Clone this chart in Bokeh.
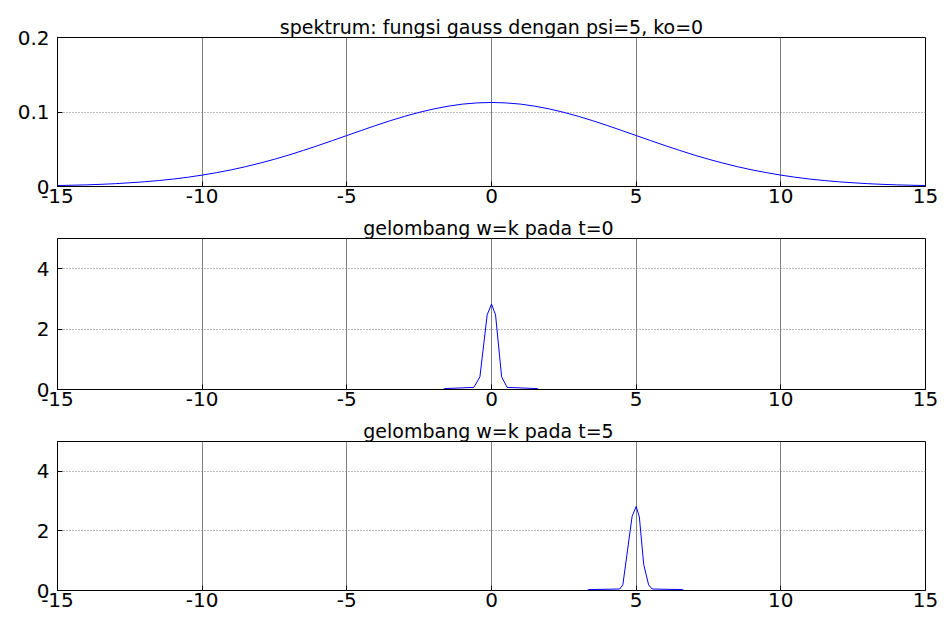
from bokeh.plotting import figure
from bokeh.layouts import column
from bokeh.models import Range1d, FixedTicker
from bokeh.embed import file_html
from bokeh.resources import INLINE

# ---- data ----
spec_k = [-15, -14.5, -14, -13.5, -13, -12.5, -12, -11.5, -11, -10.5, -10,
          -9.5, -9, -8.5, -8, -7.5, -7, -6.5, -6, -5.5, -5,
          -4.5, -4, -3.5, -3, -2.5, -2, -1.5, -1, -0.5, 0,
          0.5, 1, 1.5, 2, 2.5, 3, 3.5, 4, 4.5, 5,
          5.5, 6, 6.5, 7, 7.5, 8, 8.5, 9, 9.5, 10,
          10.5, 11, 11.5, 12, 12.5, 13, 13.5, 14, 14.5, 15]
spec_a = [0.0013, 0.0017, 0.0022, 0.0029, 0.0038, 0.0050, 0.0063, 0.0080, 0.0100, 0.0124, 0.0153,
          0.0186, 0.0223, 0.0266, 0.0314, 0.0366, 0.0423, 0.0485, 0.0549, 0.0616, 0.0684,
          0.0752, 0.0819, 0.0883, 0.0942, 0.0995, 0.1041, 0.1078, 0.1106, 0.1122, 0.1128,
          0.1122, 0.1106, 0.1078, 0.1041, 0.0995, 0.0942, 0.0883, 0.0819, 0.0752, 0.0684,
          0.0616, 0.0549, 0.0485, 0.0423, 0.0366, 0.0314, 0.0266, 0.0223, 0.0186, 0.0153,
          0.0124, 0.0100, 0.0080, 0.0063, 0.0050, 0.0038, 0.0029, 0.0022, 0.0017, 0.0013]

wave0_x = [-15, -1.68, -1.62, -0.61, -0.40, -0.15, 0.0, 0.14, 0.35, 0.54, 1.58, 1.64, 15]
wave0_y = [0, 0, 0.03, 0.07, 0.42, 2.47, 2.83, 2.47, 0.42, 0.07, 0.03, 0, 0]

wave5_x = [-15, 3.30, 3.36, 4.43, 4.54, 4.86, 5.0, 5.11, 5.26, 5.43, 5.55, 6.60, 6.66, 15]
wave5_y = [0, 0, 0.03, 0.05, 0.19, 2.49, 2.82, 2.47, 0.88, 0.19, 0.05, 0.03, 0, 0]

x_ticks = [-15, -10, -5, 0, 5, 10, 15]
x_tick_labels = ["-15", "-10", "-5", "0", "5", "10", "15"]
spec_y_ticks = [0, 0.1, 0.2]
spec_y_labels = ["0", "0.1", "0.2"]
wave_y_ticks = [0, 2, 4]
wave_y_labels = ["0", "2", "4"]
titles = ["spektrum: fungsi gauss dengan psi=5, ko=0",
          "gelombang  w=k pada t=0",
          "gelombang  w=k pada t=5"]

FONT = "DejaVu Sans"


def make(title, ymax, yticks, ylabels, height, top, bottom):
    p = figure(width=947, height=height, x_range=Range1d(-15, 15), y_range=Range1d(0, ymax),
               output_backend="svg", toolbar_location=None,
               min_border_left=57, min_border_right=22,
               min_border_top=top, min_border_bottom=bottom)
    p.title.text = title
    p.title.align = "center"
    p.title.text_font = FONT
    p.title.text_font_size = "19px"
    p.title.text_font_style = "normal"
    p.title.text_color = "black"
    p.title.standoff = 0
    p.title.offset = 0
    p.xaxis.ticker = FixedTicker(ticks=x_ticks)
    p.yaxis.ticker = FixedTicker(ticks=yticks)
    p.xaxis.major_label_overrides = {t: s for t, s in zip(x_ticks, x_tick_labels)}
    p.yaxis.major_label_overrides = {t: s for t, s in zip(yticks, ylabels)}
    for ax in (p.xaxis[0], p.yaxis[0]):
        ax.major_label_text_font = FONT
        ax.major_label_text_font_size = "20px"
        ax.major_label_text_color = "black"
        ax.axis_line_color = "black"
        ax.major_tick_line_color = "black"
        ax.major_tick_in = 5
        ax.major_tick_out = 0
        ax.minor_tick_line_color = None
    p.xaxis.major_label_standoff = 2
    p.yaxis.major_label_standoff = 8
    p.xgrid.grid_line_color = "#7f7f7f"
    p.xgrid.grid_line_width = 1
    p.ygrid.grid_line_color = "#777777"
    p.ygrid.grid_line_dash = "1 2"
    p.outline_line_color = "black"
    p.outline_line_alpha = 1
    p.background_fill_color = "white"
    p.border_fill_color = "white"
    return p


p1 = make(titles[0], 0.2, spec_y_ticks, spec_y_labels, 213, 37, 27)
p1.line(spec_k, spec_a, color="#0000ff", line_width=1)

p2 = make(titles[1], 5, wave_y_ticks, wave_y_labels, 203, 25, 27)
p2.line(wave0_x, wave0_y, color="#0000ff", line_width=1)

p3 = make(titles[2], 5, wave_y_ticks, wave_y_labels, 201, 25, 27)
p3.line(wave5_x, wave5_y, color="#0000ff", line_width=1)

layout = column(p1, p2, p3, spacing=0)
open("out.html", "w").write(file_html(layout, INLINE))
